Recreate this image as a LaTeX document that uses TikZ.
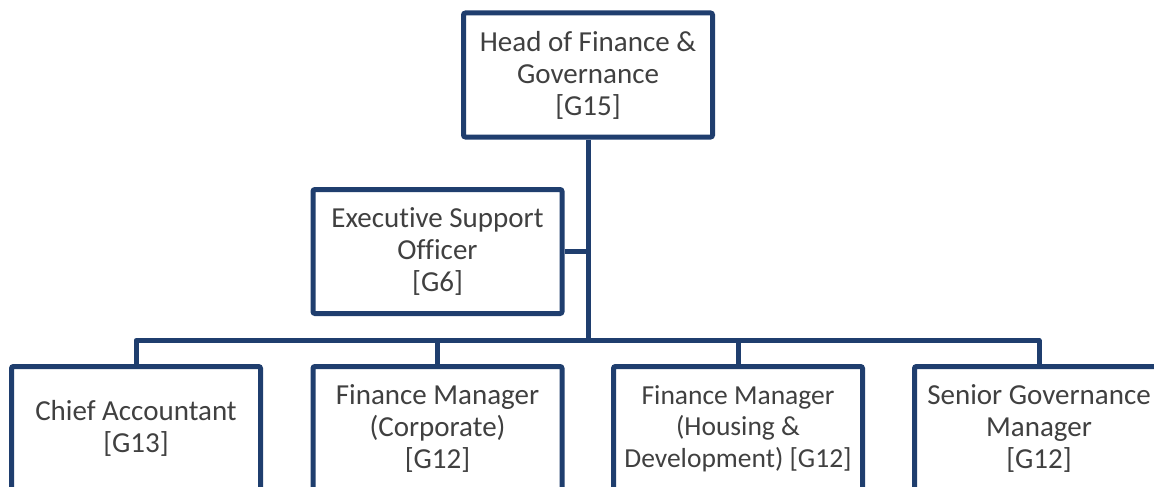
\documentclass[tikz,border=0pt]{standalone}
\usepackage{fontspec}
\setmainfont{Carlito}[Ligatures=NoCommon]
\usepackage{tikz}
\usetikzlibrary{calc}
\usetikzlibrary{positioning}
\definecolor{boxblue}{RGB}{31,62,110}
\definecolor{textgrey}{RGB}{64,64,64}
\tikzset{post/.style={shape=rectangle,draw=boxblue,line width=5pt,fill=white,rounded corners=2pt,minimum width=249pt,minimum height=124pt,align=center,inner sep=0pt,text=textgrey,font=\fontsize{29}{32}\selectfont}}
\tikzset{link/.style={draw=boxblue,line width=5pt,line join=round}}

\begin{document}
\begin{tikzpicture}[x=1pt,y=-1pt]
		\clip (0,0) rectangle (1154,487);
		\coordinate (bus) at (587.5,340.5);
		\node[post] (head) at (588,75) {Head of Finance \&\\Governance\\{[G15]}};
		\node[post] (exec) at (437.5,251.5) {Executive Support\\Officer\\{[G6]}};
		\node[post] (chief) at (136,428.5) {Chief Accountant\\{[G13]}};
		\node[post] (corp) at (437.5,428.5) {Finance Manager\\(Corporate)\\{[G12]}};
		\node[post,font=\fontsize{27.5}{31.5}\selectfont] (housing) at (738,428.5) {Finance Manager\\(Housing \&\\Development) [G12]};
		\node[post] (senior) at (1039,428.5) {Senior Governance\\Manager\\{[G12]}};
		\path [link] (head.south) -- (head.south |- bus);
		\path [link] (exec.east) -- (exec.east -| head.south);
		\path [link] (chief.north) |- (bus) -| (senior.north);
		\path [link] (corp.north) -- (corp.north |- bus);
		\path [link] (housing.north) -- (housing.north |- bus);
	\end{tikzpicture}
\end{document}
